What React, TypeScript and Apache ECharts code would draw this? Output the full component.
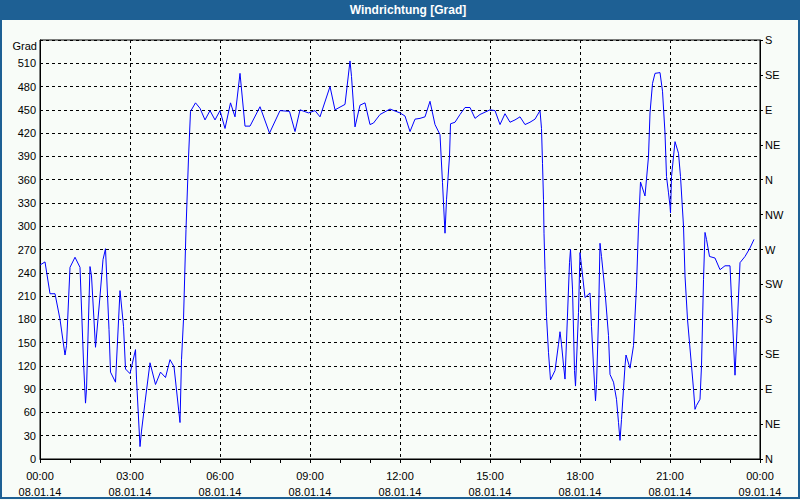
import React, { useEffect, useRef } from "react";
import * as echarts from "echarts";

const titleText = "Windrichtung [Grad]";
const dayLabels = ["08.01.14", "09.01.14"];
const compass = ["N", "NE", "E", "SE", "S", "SW", "W", "NW"];

// minutes since 00:00 on 08.01.14
const minutes = [
  0, 10, 20, 30, 40, 50, 53, 60, 70, 80, 87, 91, 93, 100, 103, 111, 120, 126, 131, 138, 141, 151,
  160, 167, 171, 180, 191, 193, 200, 203, 210, 220, 231, 241, 251, 260, 268, 280, 283, 287, 292,
  297, 301, 311, 320, 330, 340, 350, 360, 370, 381, 390, 400, 410, 420, 440, 459, 480, 499, 510,
  520, 537, 550, 560, 580, 590, 610, 620, 623, 630, 640, 650, 660, 667, 680, 700, 720, 730, 740,
  750, 760, 770, 780, 790, 800, 805, 810, 813, 819, 821, 830, 840, 850, 860, 870, 880, 890, 900,
  910, 920, 930, 940, 950, 960, 970, 980, 990, 1000, 1003, 1005, 1007, 1008, 1010, 1013, 1017,
  1021, 1030, 1037, 1040, 1043, 1047, 1050, 1053, 1059, 1061, 1065, 1069, 1071, 1077, 1080, 1083,
  1090, 1100, 1103, 1107, 1111, 1113, 1117, 1120, 1123, 1130, 1137, 1140, 1147, 1153, 1157, 1160,
  1163, 1170, 1172, 1180, 1187, 1193, 1197, 1201, 1210, 1217, 1220, 1225, 1230, 1240, 1245, 1250,
  1253, 1257, 1260, 1261, 1263, 1270, 1277, 1281, 1287, 1290, 1295, 1303, 1307, 1310, 1313, 1320,
  1323, 1327, 1330, 1333, 1339, 1350, 1360, 1370, 1380, 1390, 1400, 1410, 1420, 1428,
];
const values = [
  250, 254, 213, 213, 180, 134, 146, 247, 260, 247, 125, 72, 90, 248, 236, 144, 210, 257, 271, 167,
  112, 99, 217, 171, 116, 110, 141, 103, 16, 36, 73, 124, 96, 112, 105, 128, 119, 47, 128, 180, 296,
  388, 448, 459, 452, 437, 449, 437, 449, 426, 459, 441, 497, 429, 429, 454, 420, 449, 448, 422, 450,
  446, 449, 441, 480, 450, 457, 513, 493, 428, 456, 459, 431, 433, 444, 451, 446, 442, 422, 438, 439,
  441, 461, 431, 418, 356, 291, 334, 390, 432, 434, 444, 453, 453, 439, 444, 447, 450, 449, 431, 445,
  434, 437, 441, 431, 434, 438, 449, 426, 381, 334, 291, 244, 184, 137, 102, 114, 148, 164, 148, 121,
  103, 152, 253, 270, 219, 114, 94, 189, 266, 249, 208, 214, 171, 120, 75, 96, 180, 278, 261, 216,
  159, 109, 99, 77, 47, 24, 51, 120, 134, 117, 146, 223, 300, 357, 339, 390, 446, 484, 497, 498, 474,
  420, 364, 343, 326, 317, 364, 409, 394, 364, 300, 236, 180, 120, 90, 64, 69, 77, 120, 231, 292, 283,
  261, 259, 244, 249, 249, 108, 253, 261, 272, 283,
];

const FONT = "Liberation Sans";
const BLUE = "#1e6094";

export default function App() {
  const ref = useRef<HTMLDivElement>(null);
  useEffect(() => {
    if (!ref.current) return;
    const chart = echarts.init(ref.current, null, { renderer: "svg" });
    const data = minutes.map((m, i) => [m, values[i]]);
    const pad = (n: number) => (n < 10 ? "0" + n : "" + n);
    chart.setOption({
      animation: false,
      backgroundColor: "#f8fcf8",
      textStyle: { fontFamily: FONT },
      grid: {
        left: 40,
        right: 40,
        top: 40,
        bottom: 40,
        show: true,
        borderColor: "#000",
        borderWidth: 1,
        backgroundColor: "transparent",
      },
      graphic: [
        { type: "rect", shape: { x: 0, y: 0, width: 800, height: 20 }, style: { fill: BLUE } },
        {
          type: "rect",
          shape: { x: 1, y: 1, width: 798, height: 497 },
          style: { fill: "none", stroke: BLUE, lineWidth: 2 },
        },
        {
          type: "text",
          x: 408,
          y: 10,
          style: {
            text: titleText,
            fill: "#fff",
            font: `bold 12px "${FONT}"`,
            align: "center",
            verticalAlign: "middle",
          },
        },
        {
          type: "text",
          x: 37,
          y: 46,
          style: {
            text: "Grad",
            fill: "#000",
            font: `11px "${FONT}"`,
            align: "right",
            verticalAlign: "middle",
          },
        },
      ],
      xAxis: {
        type: "value",
        min: 0,
        max: 1440,
        interval: 180,
        axisLine: { show: true, lineStyle: { color: "#000", width: 1 } },
        axisTick: { show: true, length: 4, lineStyle: { color: "#000" } },
        minorTick: { show: true, splitNumber: 3, length: 4, lineStyle: { color: "#000" } },
        splitLine: { show: true, lineStyle: { color: "#000", type: [3, 3], width: 1 } },
        axisLabel: {
          color: "#000",
          fontSize: 11,
          fontFamily: FONT,
          margin: 9,
          lineHeight: 16,
          formatter: (v: number) => {
            const day = Math.floor(v / 1440);
            const rem = v - day * 1440;
            return pad(Math.floor(rem / 60)) + ":" + pad(rem % 60) + "\n" + dayLabels[day];
          },
        },
      },
      yAxis: [
        {
          type: "value",
          min: 0,
          max: 540,
          interval: 30,
          position: "left",
          axisLine: { show: true, lineStyle: { color: "#000", width: 1 } },
          axisTick: { show: false },
          splitLine: { show: true, lineStyle: { color: "#000", type: [3, 3], width: 1 } },
          axisLabel: {
            color: "#000",
            fontSize: 11,
            fontFamily: FONT,
            margin: 4,
            formatter: (v: number) => (v >= 540 ? "" : String(v)),
          },
        },
        {
          type: "value",
          min: 0,
          max: 540,
          interval: 45,
          position: "right",
          axisLine: { show: true, lineStyle: { color: "#000", width: 1 } },
          axisTick: { show: true, length: 3, inside: false, lineStyle: { color: "#000" } },
          splitLine: { show: false },
          axisLabel: {
            color: "#000",
            fontSize: 11,
            fontFamily: FONT,
            margin: 5,
            formatter: (v: number) => compass[Math.round(v / 45) % 8],
          },
        },
      ],
      series: [
        {
          type: "line",
          yAxisIndex: 0,
          data,
          showSymbol: false,
          symbol: "none",
          lineStyle: { color: "#0000ff", width: 1 },
          itemStyle: { color: "#0000ff" },
        },
      ],
    });
    return () => chart.dispose();
  }, []);
  return (
    <div
      ref={ref}
      style={{ position: "fixed", left: 0, top: 0, width: 800, height: 500 }}
    />
  );
}
